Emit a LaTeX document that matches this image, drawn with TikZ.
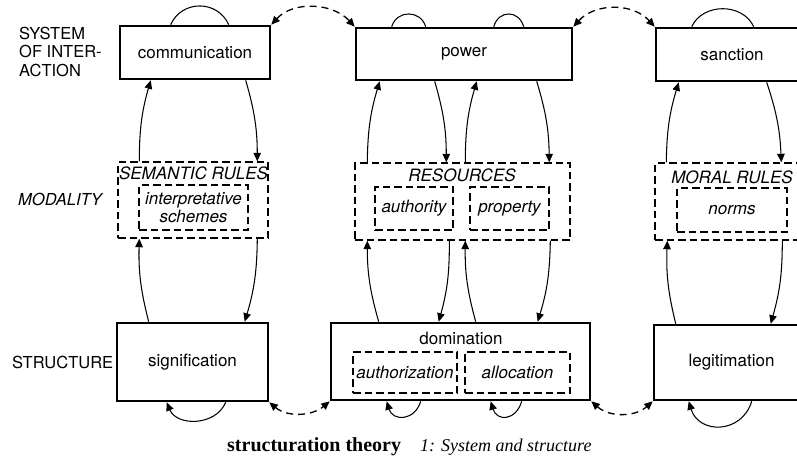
\documentclass[tikz,border=0pt]{standalone}
\usepackage{fontspec}
\setmainfont{TeX Gyre Heros}
\newfontfamily\capfont{Liberation Serif}
\usetikzlibrary{arrows.meta,calc}
\begin{document}
\begin{tikzpicture}[x=1pt,y=-1pt,
  every node/.style={font=\fontsize{17}{18.5}\selectfont, inner sep=0pt},
  sysbox/.style={draw, line width=2.6pt, line join=miter},
  modbox/.style={draw, line width=1.4pt, dash pattern=on 7.5pt off 4pt},
  innbox/.style={draw, line width=1.4pt, dash pattern=on 7.5pt off 4pt, align=center, font=\fontsize{17}{18}\selectfont\itshape},
  sidelbl/.style={anchor=west, align=left, font=\fontsize{16.5}{18.5}\selectfont},
  arr/.style={line width=1.05pt, -{Triangle[length=8.5pt,width=7.5pt]}},
  darr/.style={line width=1.3pt, dash pattern=on 7pt off 5pt, {Triangle[length=8.5pt,width=7.5pt]}-{Triangle[length=8.5pt,width=7.5pt]}},
  loopline/.style={line width=1.05pt},
  looparr/.style={line width=1.05pt, -{Triangle[length=8.5pt,width=7.5pt]}}
]
\useasboundingbox (0,0) rectangle (797,456);
\clip (0,0) rectangle (797,456);

% side labels
\node[sidelbl] (lsys) at (19,51.5) {SYSTEM\\OF INTER-\\ACTION};
\node[sidelbl, font=\fontsize{16.5}{18.5}\selectfont\itshape] (lmod) at (18,199) {MODALITY};
\node[sidelbl] (lstr) at (12,362) {STRUCTURE};

% system of interaction
\node[sysbox, minimum width=150, minimum height=53] (comm) at (195,52.5) {communication};
\node[sysbox, minimum width=216, minimum height=52] (power) at (464,54) {power};
\node[sysbox, minimum width=152, minimum height=53] (sanc) at (732,54.5) {sanction};

% modality
\node[modbox, minimum width=150, minimum height=76] (sem) at (193,200) {};
\node (semt) at (193.5,173) {\itshape SEMANTIC RULES};
\node[innbox, minimum width=109, minimum height=45] (interp) at (193.5,207.5) {interpretative\\schemes};

\node[modbox, minimum width=215, minimum height=77] (res) at (462.5,201.5) {};
\node (rest) at (462,175) {\itshape RESOURCES};
\node[innbox, minimum width=78, minimum height=43] (auth) at (414,208.5) {authority};
\node[innbox, minimum width=79, minimum height=43] (prop) at (509.5,208.5) {property};

\node[modbox, minimum width=185, minimum height=77] (mor) at (747.5,201.5) {};
\node (mort) at (732,177) {\itshape MORAL RULES};
\node[innbox, minimum width=110, minimum height=44] (norms) at (732,210) {norms};

% structure
\node[sysbox, minimum width=151, minimum height=78] (sig) at (192.5,362) {signification};
\node[sysbox, minimum width=259, minimum height=77] (dom) at (460.5,361.5) {};
\node (domt) at (461,338) {domination};
\node[innbox, minimum width=104, minimum height=41] (authz) at (405,372.5) {authorization};
\node[innbox, minimum width=105, minimum height=41] (alloc) at (517.5,372.5) {allocation};
\node[sysbox, minimum width=155, minimum height=75] (legi) at (731.5,362.5) {legitimation};

% column 1 arrows
\draw[arr] ($(sem.north west)+(22,0)$) to[bend left=8] ($(comm.south west)+(32,0)$);
\draw[arr] ($(comm.south west)+(127,0)$) to[bend left=8] ($(sem.north west)+(140,0)$);
\draw[arr] ($(sig.north west)+(33,0)$) to[bend left=8] ($(sem.south west)+(22,0)$);
\draw[arr] ($(sem.south west)+(140,0)$) to[bend left=8] ($(sig.north west)+(129,0)$);

% column 2 arrows
\draw[arr] ($(res.north west)+(13,0)$) to[bend left=8] ($(power.south west)+(25,0)$);
\draw[arr] ($(power.south west)+(80,0)$) to[bend left=8] ($(res.north west)+(92,0)$);
\draw[arr] ($(res.north west)+(111,0)$) to[bend left=8] ($(power.south west)+(122,0)$);
\draw[arr] ($(power.south west)+(182,0)$) to[bend left=8] ($(res.north west)+(195,0)$);
\draw[arr] ($(dom.north west)+(49,0)$) to[bend left=8] ($(res.south west)+(13,0)$);
\draw[arr] ($(res.south west)+(95,0)$) to[bend left=8] ($(dom.north west)+(109,0)$);
\draw[arr] ($(dom.north west)+(146,0)$) to[bend left=8] ($(res.south west)+(111,0)$);
\draw[arr] ($(res.south west)+(196,0)$) to[bend left=8] ($(dom.north west)+(208,0)$);

% column 3 arrows
\draw[arr] ($(mor.north west)+(12,0)$) to[bend left=8] ($(sanc.south west)+(24,0)$);
\draw[arr] ($(sanc.south west)+(112,0)$) to[bend left=8] ($(mor.north west)+(127,0)$);
\draw[arr] ($(legi.north west)+(23,0)$) to[bend left=8] ($(mor.south west)+(13,0)$);
\draw[arr] ($(mor.south west)+(128,0)$) to[bend left=8] ($(legi.north west)+(118,0)$);

% top loops
\draw[loopline] ($(comm.north west)+(52,0)$) .. controls +(11,-25) and +(-11,-25) .. ($(comm.north west)+(110,0)$);
\draw[loopline] ($(power.north west)+(37,0)$) .. controls +(5,-17) and +(-5,-17) .. ($(power.north west)+(71,0)$);
\draw[loopline] ($(power.north west)+(139,0)$) .. controls +(5,-17) and +(-5,-17) .. ($(power.north west)+(169,0)$);
\draw[loopline] ($(sanc.north west)+(37,0)$) .. controls +(11,-24) and +(-11,-24) .. ($(sanc.north west)+(99,0)$);

% bottom loops
\draw[looparr] ($(sig.south west)+(110,0)$) .. controls +(-10,24) and +(10,24) .. ($(sig.south west)+(51,0)$);
\draw[looparr] ($(dom.south west)+(91,0)$) .. controls +(-6,20) and +(6,20) .. ($(dom.south west)+(57,0)$);
\draw[looparr] ($(dom.south west)+(192,0)$) .. controls +(-6,20) and +(6,20) .. ($(dom.south west)+(161,0)$);
\draw[looparr] ($(legi.south west)+(99,0)$) .. controls +(-10,33) and +(10,33) .. ($(legi.south west)+(36,0)$);

% dashed links
\draw[darr] (comm.north east) .. controls +(22,-24) and +(-22,-24) .. (power.north west);
\draw[darr] (power.north east) .. controls +(22,-24) and +(-22,-24) .. (sanc.north west);
\draw[darr] (sig.south east) .. controls +(18,15) and +(-18,15) .. (dom.south west);
\draw[darr] (dom.south east) .. controls +(18,16) and +(-18,16) .. (legi.south west);

% caption
\node[anchor=base west] (cap1) at (227,451) {\capfont\fontsize{20}{22}\selectfont\bfseries structuration theory};
\node[anchor=base west] (cap2) at (420,451) {\capfont\fontsize{18}{20}\selectfont\itshape 1: System and structure};
\end{tikzpicture}
\end{document}
